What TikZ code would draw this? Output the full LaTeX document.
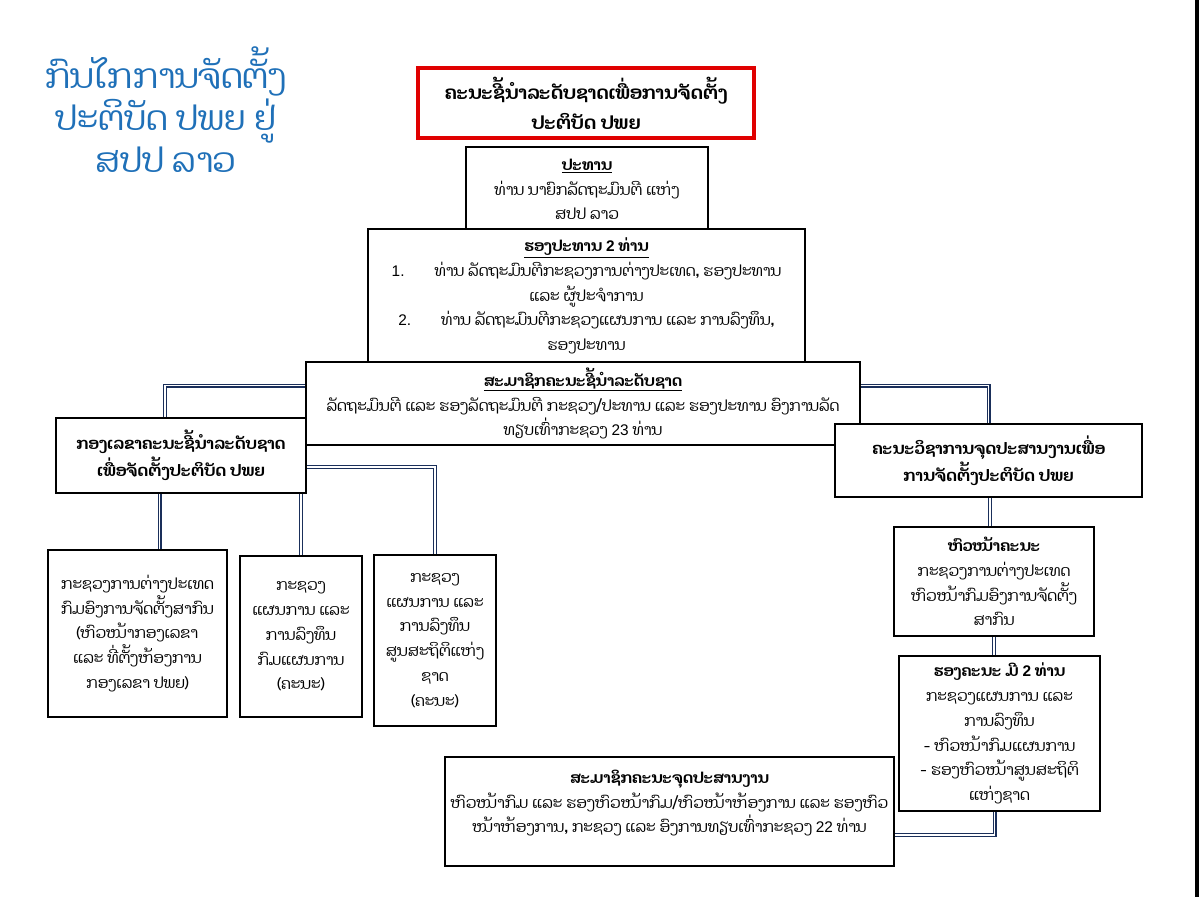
\documentclass[tikz,border=0pt]{standalone}
\usepackage{fontspec}
\setmainfont{Liberation Sans}
\newfontfamily\lao[Script=Lao]{Dhyana}
\newcommand{\dig}[1]{{\rmfamily #1}}
\definecolor{navy}{HTML}{1A2F5A}
\definecolor{redbox}{HTML}{E00000}
\definecolor{titleblue}{HTML}{1F70B8}

\begin{document}
\begin{tikzpicture}[x=1pt,y=-1pt,
  box/.style={draw, line width=1.2pt, fill=white, align=center, inner sep=0pt,
    font=\lao\fontsize{15.4}{24.8}\selectfont},
  hbox/.style={box, font=\lao\bfseries\fontsize{16.2}{26.5}\selectfont},
  link/.style={draw=navy, double=white, double distance=1.6pt, line width=1.2pt}]
\useasboundingbox (0,0) rectangle (1199,897);
\fill (1195,0) rectangle (1199,897);

% title
\node[align=center, text=titleblue, font=\lao\fontsize{34}{42}\selectfont] (title) at (166,110)
  {ກົນໄກການຈັດຕັ້ງ\\ປະຕິບັດ ປພຍ ຢູ່\\ສປປ ລາວ};

% national steering committee
\node[box, draw=redbox, line width=3.5pt, minimum width=336, minimum height=70,
  font=\lao\bfseries\fontsize{18.5}{30}\selectfont] (lead) at (586,103)
  {ຄະນະຊີ້ນຳລະດັບຊາດເພື່ອການຈັດຕັ້ງ\\ປະຕິບັດ ປພຍ};
\node[box, minimum width=242, minimum height=85] (pres) at (587,189.5)
  {{\bfseries\underline{ປະທານ}}\\ທ່ານ ນາຍົກລັດຖະມົນຕີ ແຫ່ງ\\ສປປ ລາວ};
\node[box, minimum width=437, minimum height=134] (vice) at (586.5,296)
  {{\bfseries\underline{ຮອງປະທານ \dig{2} ທ່ານ}}\\
   \dig{1.}\hspace{30pt}ທ່ານ ລັດຖະມົນຕີກະຊວງການຕ່າງປະເທດ, ຮອງປະທານ\\
   ແລະ ຜູ້ປະຈຳການ\\
   \dig{2.}\hspace{30pt}ທ່ານ ລັດຖະມົນຕີກະຊວງແຜນການ ແລະ ການລົງທຶນ,\\
   ຮອງປະທານ};
\node[box, minimum width=554, minimum height=83] (mem) at (583,403.5)
  {{\bfseries\underline{ສະມາຊິກຄະນະຊີ້ນຳລະດັບຊາດ}}\\
   ລັດຖະມົນຕີ ແລະ ຮອງລັດຖະມົນຕີ ກະຊວງ/ປະທານ ແລະ ຮອງປະທານ ອົງການລັດ\\
   ທຽບເທົ່າກະຊວງ \dig{23} ທ່ານ};

% secretariat
\node[hbox, minimum width=250, minimum height=75] (sec) at (181,455.5)
  {ກອງເລຂາຄະນະຊີ້ນຳລະດັບຊາດ\\ເພື່ອຈັດຕັ້ງປະຕິບັດ ປພຍ};
\node[box, minimum width=179, minimum height=167] (mofa) at (137.5,633.5)
  {ກະຊວງການຕ່າງປະເທດ\\ກົມອົງການຈັດຕັ້ງສາກົນ\\(ຫົວໜ້າກອງເລຂາ\\ແລະ ທີ່ຕັ້ງຫ້ອງການ\\ກອງເລຂາ ປພຍ)};
\node[box, minimum width=122, minimum height=161] (plan) at (301,636.5)
  {ກະຊວງ\\ແຜນການ ແລະ\\ການລົງທຶນ\\ກົມແຜນການ\\(ຄະນະ)};
\node[box, minimum width=122, minimum height=171] (stat) at (435,640.5)
  {ກະຊວງ\\ແຜນການ ແລະ\\ການລົງທຶນ\\ສູນສະຖິຕິແຫ່ງ\\ຊາດ\\(ຄະນະ)};

% technical committee
\node[hbox, minimum width=307, minimum height=73] (tech) at (988.5,460.5)
  {ຄະນະວິຊາການຈຸດປະສານງານເພື່ອ\\ການຈັດຕັ້ງປະຕິບັດ ປພຍ};
\node[box, minimum width=200, minimum height=109] (head) at (994,581.5)
  {{\bfseries ຫົວໜ້າຄະນະ}\\ກະຊວງການຕ່າງປະເທດ\\ຫົວໜ້າກົມອົງການຈັດຕັ້ງ\\ສາກົນ};
\node[box, minimum width=201, minimum height=155] (deputy) at (999.5,733.5)
  {{\bfseries ຮອງຄະນະ ມີ \dig{2} ທ່ານ}\\ກະຊວງແຜນການ ແລະ\\ການລົງທຶນ\\- ຫົວໜ້າກົມແຜນການ\\- ຮອງຫົວໜ້າສູນສະຖິຕິ\\ແຫ່ງຊາດ};
\node[box, minimum width=449, minimum height=109] (focal) at (669.5,811.5)
  {{\bfseries ສະມາຊິກຄະນະຈຸດປະສານງານ}\\
   ຫົວໜ້າກົມ ແລະ ຮອງຫົວໜ້າກົມ/ຫົວໜ້າຫ້ອງການ ແລະ ຮອງຫົວ\\
   ໜ້າຫ້ອງການ, ກະຊວງ ແລະ ອົງການທຽບເທົ່າກະຊວງ \dig{22} ທ່ານ\\[-12pt] \strut};

% double connectors
\draw[link] ([yshift=18pt]mem.west) -| ([xshift=-16pt]sec.north);
\draw[link] ([yshift=18pt]mem.east) -| (tech.north);
\draw[link] ([yshift=-11.5pt]sec.east) -| (stat.north);
\draw[link] ([xshift=22pt]mofa.north) -- ([xshift=22pt]mofa.north |- sec.south);
\draw[link] (plan.north) -- (plan.north |- sec.south);
\draw[link] ([xshift=-4pt]head.north) -- ([xshift=-4pt]head.north |- tech.south);
\draw[link] (head.south) -- (head.south |- deputy.north);
\draw[link] ([xshift=-5pt]deputy.south) |- ([yshift=-23.5pt]focal.east);
\end{tikzpicture}
\end{document}
